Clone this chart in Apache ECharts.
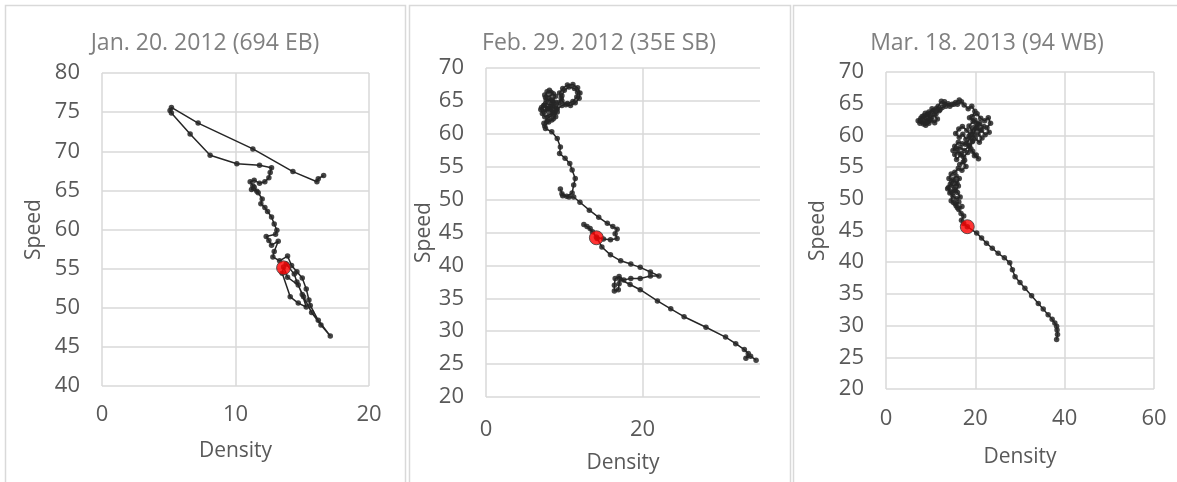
<!DOCTYPE html>
<html>
<head>
<meta charset="utf-8">
<script src="https://cdn.jsdelivr.net/npm/echarts@6/dist/echarts.min.js"></script>
<style>
  html, body { margin: 0; padding: 0; background: #ffffff; }
  #chart { width: 1177px; height: 482px; }
</style>
</head>
<body>
<div id="chart"></div>
<script>
// Speed–density trajectories for three incidents
const panelTitles = ['Jan. 20. 2012 (694 EB)', 'Feb. 29. 2012 (35E SB)', 'Mar. 18. 2013 (94 WB)'];

// Jan. 20. 2012 (694 EB)
const densityJan = [16.6, 16.2, 16.1, 14.3, 11.3, 7.2, 5.2, 5.1, 5.2, 6.6, 8.1, 10.1, 11.8, 12.7, 12.6, 12.5, 12.2, 11.8, 11.4, 11.1,
  11.3, 11.2, 11.6, 11.4, 11.7, 12.0, 11.9, 12.2, 12.4, 12.7, 12.9, 13.1, 13.0, 12.3, 12.5, 12.7, 13.2, 12.9, 12.8, 13.3,
  13.9, 14.2, 14.6, 15.0, 15.3, 15.5, 15.6, 16.2, 17.1, 16.4, 15.7, 15.1, 14.7, 13.9, 13.6, 13.5, 14.1, 14.7, 15.3, 15.0,
  14.6, 14.4, 13.8];
const speedJan = [66.9, 66.5, 66.1, 67.4, 70.3, 73.6, 75.6, 75.2, 74.9, 72.2, 69.5, 68.4, 68.2, 67.9, 67.3, 66.6, 66.1, 65.9, 66.3, 66.1,
  65.6, 65.1, 64.9, 65.4, 64.7, 63.9, 63.3, 62.8, 62.3, 61.6, 60.7, 59.9, 59.4, 59.1, 58.6, 58.0, 58.5, 57.2, 56.5, 56.0,
  56.6, 55.4, 54.6, 53.8, 52.4, 51.0, 50.3, 48.4, 46.4, 47.8, 49.4, 51.4, 52.9, 53.9, 55.2, 54.4, 51.4, 50.6, 50.1, 51.7,
  53.3, 54.3, 55.6];

// Feb. 29. 2012 (35E SB)
const densityFeb = [8.1, 8.6, 8.0, 7.5, 7.7, 8.4, 8.9, 8.3, 7.6, 7.1, 7.5, 8.2, 8.8, 8.5, 8.9, 8.3, 7.8, 7.6, 8.2, 8.7,
  8.1, 7.4, 7.8, 8.5, 9.0, 9.3, 9.6, 9.4, 9.8, 10.4, 11.1, 11.7, 12.0, 11.9, 11.4, 10.8, 10.2, 9.7, 9.7, 10.0,
  10.6, 11.3, 11.7, 11.6, 11.1, 10.4, 9.7, 9.1, 8.7, 8.1, 7.5, 7.2, 7.0, 7.4, 7.9, 8.5, 8.9, 8.4, 7.8, 7.4,
  7.9, 8.6, 9.1, 8.6, 8.0, 7.5, 7.6,
  8.4, 9.1, 9.5, 9.4, 10.1, 10.7, 11.0, 11.4, 11.2, 11.0, 10.3, 9.7, 9.5, 9.8, 10.6, 11.2, 12.0, 13.2, 14.4, 15.5,
  16.2, 16.75, 16.5, 16.75, 15.9, 15.0, 14.1, 13.3, 12.5, 12.9, 13.6, 14.2, 14.8, 15.9, 17.2, 18.5, 19.7, 21.0, 22.1, 21.0,
  19.7, 18.5, 17.6, 17.0, 16.5, 16.4, 16.4, 16.9, 17.0, 17.1, 18.4, 19.7, 21.9, 23.6, 25.3, 28.1, 30.6, 31.9, 33.0, 33.5,
  33.2, 33.8, 34.5];
const speedFeb = [66.6, 66.1, 65.6, 65.9, 65.1, 65.3, 64.8, 64.4, 64.6, 64.0, 63.4, 63.8, 64.1, 65.0, 65.7, 66.3, 66.4, 65.5, 65.0, 64.4,
  64.0, 64.3, 63.6, 63.3, 63.7, 64.7, 65.4, 66.2, 66.9, 67.4, 67.5, 67.0, 66.2, 65.4, 64.7, 64.3, 64.4, 65.0, 65.8, 66.6,
  67.1, 66.9, 66.3, 65.6, 64.9, 64.6, 64.3, 63.8, 63.2, 62.9, 62.6, 63.1, 63.7, 64.3, 63.9, 63.6, 62.6, 62.1, 61.9, 61.6,
  62.4, 62.9, 63.3, 62.3, 61.8, 61.2, 60.8,
  60.3, 59.3, 58.0, 57.0, 56.3, 55.5, 54.5, 53.2, 52.2, 51.0, 50.5, 50.9, 51.6, 50.6, 50.4, 50.4, 49.6, 48.4, 47.3, 46.4,
  45.9, 45.5, 44.8, 44.1, 43.9, 44.0, 44.3, 45.6, 46.2, 45.9, 45.1, 44.1, 42.8, 41.6, 40.7, 40.2, 39.7, 39.0, 38.4, 38.4,
  38.0, 38.0, 37.8, 38.3, 38.0, 37.0, 36.1, 36.3, 37.2, 37.9, 37.1, 36.3, 34.6, 33.4, 32.2, 30.6, 29.1, 28.1, 27.2, 26.6,
  25.9, 26.2, 25.6];

// Mar. 18. 2013 (94 WB)
const densityMar = [16.4, 15.6, 14.8, 13.9, 13.0, 12.4, 11.7, 11.0, 10.3, 9.9, 9.2, 8.5, 7.8, 7.2, 7.6, 8.3, 8.9, 9.6, 10.3, 10.9,
  11.5, 10.8, 10.1, 9.4, 8.7, 8.1, 7.7, 8.4, 9.2, 9.9, 9.3, 8.8, 9.6, 10.5, 11.2, 11.9, 11.3, 12.1, 12.6, 13.4,
  13.1, 14.3, 15.2, 16.0, 16.9, 17.5,
  18.4, 19.2, 19.9, 19.3, 20.4, 21.2, 22.1, 22.9, 23.4, 22.6, 23.1, 22.2, 21.4, 20.6, 21.5, 20.9, 20.0, 19.3, 18.6, 19.5,
  18.7, 19.9, 20.8, 21.9, 21.1, 20.3, 19.6, 18.9, 18.1, 17.1, 16.3, 15.6, 16.4, 17.2, 17.9, 18.6, 19.4, 18.7, 17.8, 17.1,
  16.2, 15.4, 15.0, 15.8, 16.6, 17.5, 18.6, 19.4, 20.2, 20.7, 19.8, 19.0, 18.1, 18.9, 19.7, 20.3, 21.0, 20.2, 19.3, 18.3,
  17.4, 16.7, 15.8, 15.4, 16.1, 16.9, 17.6, 16.5, 17.3, 17.9, 17.0, 16.2,
  15.4, 14.6, 14.1, 15.0, 15.7, 16.4, 15.9, 15.1, 14.4, 13.8, 14.5, 15.3, 16.0, 16.6, 15.8, 15.0, 14.3, 14.0, 14.7, 15.5,
  16.2, 15.6, 14.9, 14.6, 15.5, 16.3, 15.7, 15.1, 16.0, 17.0, 16.3, 16.8, 17.4, 16.9, 17.4, 18.2,
  20.3, 21.4, 22.5, 23.8, 25.1, 26.5, 27.7, 28.3, 28.9, 30.0, 31.1, 32.6, 34.1, 35.2, 36.3, 37.2, 37.8, 38.2, 38.3, 38.4,
  38.2];
const speedMar = [65.6, 65.2, 64.9, 65.0, 64.9, 65.4, 64.6, 64.0, 64.2, 63.4, 63.0, 63.1, 62.7, 62.3, 61.9, 62.1, 61.6, 61.9, 62.4, 62.0,
  62.6, 63.2, 62.9, 62.4, 62.5, 63.0, 62.4, 61.8, 62.1, 62.6, 63.3, 63.5, 63.7, 63.8, 63.4, 63.9, 64.3, 64.1, 64.4, 64.6,
  65.3, 64.6, 64.9, 64.9, 65.3, 64.8,
  64.2, 64.6, 63.8, 63.0, 63.4, 62.7, 62.3, 62.8, 61.9, 61.2, 60.5, 60.1, 60.8, 60.2, 59.6, 58.9, 59.5, 60.6, 61.5, 62.2,
  62.8, 62.4, 61.7, 61.4, 60.9, 61.0, 61.2, 60.1, 60.8, 61.4, 61.0, 60.3, 59.7, 60.2, 59.4, 59.9, 59.1, 58.4, 58.6, 58.7,
  58.9, 58.3, 57.6, 57.9, 58.1, 57.6, 58.3, 57.5, 56.9, 56.3, 56.8, 57.9, 58.8, 59.6, 60.2, 61.3, 62.0, 61.9, 59.0, 57.3,
  56.6, 56.9, 56.2, 57.0, 57.4, 57.1, 56.1, 55.4, 55.8, 55.1, 54.5, 54.8,
  54.2, 53.9, 53.2, 53.0, 53.6, 53.2, 52.4, 52.0, 52.3, 51.6, 51.1, 51.5, 51.0, 50.3, 50.0, 50.4, 50.9, 51.8, 52.7, 52.8,
  52.0, 51.3, 50.9, 49.7, 49.2, 49.5, 48.9, 49.4, 48.6, 48.8, 48.3, 47.7, 47.3, 46.6, 46.1, 45.6,
  44.6, 43.8, 43.0, 42.2, 41.4, 40.7, 39.9, 38.8, 37.7, 36.8, 35.9, 34.7, 33.5, 32.6, 31.7, 31.0, 30.4, 29.9, 29.3, 28.6,
  27.8];

// Highlighted observation in each panel
const markedDensity = [13.6, 14.1, 18.2];
const markedSpeed = [55.1, 44.2, 45.6];

// Axis ranges
const densityMax = [20, 35, 60];
const densityStep = [10, 20, 20];
const speedMin = [40, 20, 20];
const speedMax = [80, 70, 70];

const densities = [densityJan, densityFeb, densityMar];
const speeds = [speedJan, speedFeb, speedMar];

const FONT = '"Open Sans", "Liberation Sans", sans-serif';
const GRID_COLOR = '#d9d9d9';
const LABEL_COLOR = '#595959';
const TRACE_COLOR = '#262626';

const grids = [
  { left: 102, top: 73, width: 267, height: 313 },
  { left: 486, top: 68, width: 274, height: 329 },
  { left: 886, top: 72, width: 268, height: 317 }
];
const xLabelMargin = [18, 22, 19];
const xNameGap = [55, 56, 58];
const yNameGap = [57, 47, 57];
const panelBoxes = [
  { x: 5.5, y: 5.5, width: 400, height: 490 },
  { x: 409.5, y: 5.5, width: 381, height: 490 },
  { x: 793.5, y: 5.5, width: 400, height: 490 }
];
const titleCenters = [205, 599, 987];

const option = {
  animation: false,
  backgroundColor: '#ffffff',
  textStyle: { fontFamily: FONT },
  grid: grids.map(g => Object.assign({ containLabel: false }, g)),
  xAxis: grids.map((g, i) => ({
    gridIndex: i,
    type: 'value',
    min: 0,
    max: densityMax[i],
    interval: densityStep[i],
    name: 'Density',
    nameLocation: 'middle',
    nameGap: xNameGap[i],
    nameTextStyle: { color: LABEL_COLOR, fontSize: 21, fontFamily: FONT },
    axisLine: { show: false },
    axisTick: { show: false },
    axisLabel: { color: LABEL_COLOR, fontSize: 22, fontFamily: FONT, margin: xLabelMargin[i], showMaxLabel: densityMax[i] % densityStep[i] === 0 },
    splitLine: { show: true, showMaxLine: densityMax[i] % densityStep[i] === 0, lineStyle: { color: GRID_COLOR, width: 1.5 } }
  })),
  yAxis: grids.map((g, i) => ({
    gridIndex: i,
    type: 'value',
    min: speedMin[i],
    max: speedMax[i],
    interval: 5,
    name: 'Speed',
    nameLocation: 'middle',
    nameGap: yNameGap[i],
    nameTextStyle: { color: LABEL_COLOR, fontSize: 21, fontFamily: FONT },
    axisLine: { show: false },
    axisTick: { show: false },
    axisLabel: { color: LABEL_COLOR, fontSize: 22, fontFamily: FONT, margin: 22 },
    splitLine: { show: true, lineStyle: { color: GRID_COLOR, width: 1.5 } }
  })),
  graphic: panelBoxes.map(b => ({
    type: 'rect',
    shape: b,
    style: { fill: 'none', stroke: GRID_COLOR, lineWidth: 1.5 },
    silent: true
  })).concat(panelTitles.map((t, i) => ({
    type: 'text',
    x: titleCenters[i],
    y: 43,
    style: { text: t, align: 'center', verticalAlign: 'middle', fill: '#808080', font: '23px ' + FONT },
    silent: true
  }))),
  series: []
};

densities.forEach((dens, i) => {
  option.series.push({
    type: 'line',
    xAxisIndex: i,
    yAxisIndex: i,
    data: dens.map((d, k) => [d, speeds[i][k]]),
    symbol: 'circle',
    symbolSize: 5.5,
    showSymbol: true,
    itemStyle: { color: TRACE_COLOR, opacity: 0.85 },
    lineStyle: { color: TRACE_COLOR, width: 1.5 },
    z: 2
  });
  option.series.push({
    type: 'scatter',
    xAxisIndex: i,
    yAxisIndex: i,
    data: [[markedDensity[i], markedSpeed[i]]],
    symbol: 'circle',
    symbolSize: 14,
    itemStyle: { color: '#ff0000', borderColor: '#3a3a3a', borderWidth: 1 },
    z: 5
  });
});

const chart = echarts.init(document.getElementById('chart'), null, { renderer: 'canvas' });
chart.setOption(option);
</script>
</body>
</html>
